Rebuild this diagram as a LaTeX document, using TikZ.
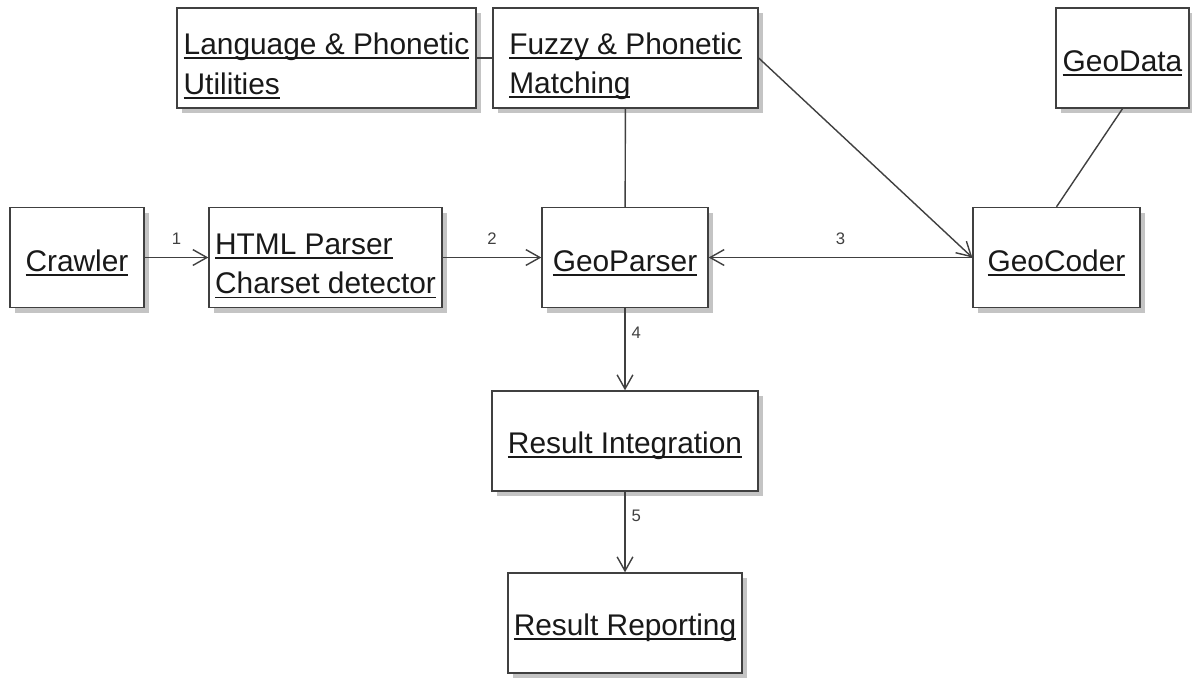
\documentclass[tikz,border=0pt]{standalone}
\usepackage{fontspec}
\setmainfont{Liberation Sans}
\usetikzlibrary{arrows.meta,shadows}
\definecolor{linegray}{HTML}{404040}
\definecolor{shadowgray}{HTML}{C4C4C4}
\newcommand{\ulname}[1]{\setbox0=\hbox{#1}\rlap{\rule[-2.6pt]{\wd0}{1.1pt}}\box0}
\newcommand{\twolines}[2]{\rule{0pt}{21.5pt}\ulname{#1}\\\ulname{#2}}

\begin{document}
\begin{tikzpicture}[x=0.02cm,y=-0.02cm,
    comp/.style={draw=linegray, line width=0.8pt, fill=white, align=left,
      general shadow={fill=shadowgray, shadow xshift=0.1cm, shadow yshift=-0.1cm},
      minimum height=2cm, inner sep=0pt, text=black!90,
      font=\fontsize{17}{22.5}\selectfont,
      execute at begin node={\rule{0pt}{18pt}}},
    link/.style={draw=linegray, line width=0.8pt},
    flow/.style={link, -{Straight Barb[length=8pt,width=9pt]}},
    num/.style={font=\fontsize{9.5}{11}\selectfont, text=black!75}]
  \useasboundingbox (0,0) rectangle (1192,677);
  % Top row
  \node[comp, minimum width=5.98cm] (lang) at (326.5,58) {\twolines{Language \& Phonetic}{Utilities}};
  \node[comp, minimum width=5.3cm] (fuzzy) at (625.5,58) {\twolines{Fuzzy \& Phonetic}{Matching}};
  \node[comp, minimum width=2.66cm] (geodata) at (1122.5,58) {\ulname{GeoData}};
  % Middle row
  \node[comp, minimum width=2.68cm] (crawler) at (77,257.5) {\ulname{Crawler}};
  \node[comp, minimum width=4.66cm] (html) at (325.5,257.5) {\twolines{HTML Parser}{Charset detector}};
  \node[comp, minimum width=3.32cm] (geoparser) at (625,257.5) {\ulname{GeoParser}};
  \node[comp, minimum width=3.34cm] (geocoder) at (1056.5,257.5) {\ulname{GeoCoder}};
  % Lower boxes
  \node[comp, minimum width=5.32cm] (integ) at (625,441) {\ulname{Result Integration}};
  \node[comp, minimum width=4.68cm] (report) at (625,623) {\ulname{Result Reporting}};
  % Plain links
  \draw[link] (lang) -- (fuzzy);
  \draw[link] (fuzzy) -- (geoparser);
  \draw[link] (geodata.south) -- (geocoder.north);
  % Numbered flows
  \draw[flow] (crawler) -- node[num, above=0.13cm] {1} (html);
  \draw[flow] (html) -- node[num, above=0.13cm] {2} (geoparser);
  \draw[flow, {Straight Barb[length=8pt,width=9pt]}-] (geoparser) -- node[num, above=0.13cm] {3} (geocoder);
  \draw[flow] (fuzzy.east) -- (geocoder.west);
  \draw[flow] (geoparser) -- node[num, right, pos=0.3] {4} (integ);
  \draw[flow] (integ) -- node[num, right, pos=0.3] {5} (report);
\end{tikzpicture}
\end{document}
